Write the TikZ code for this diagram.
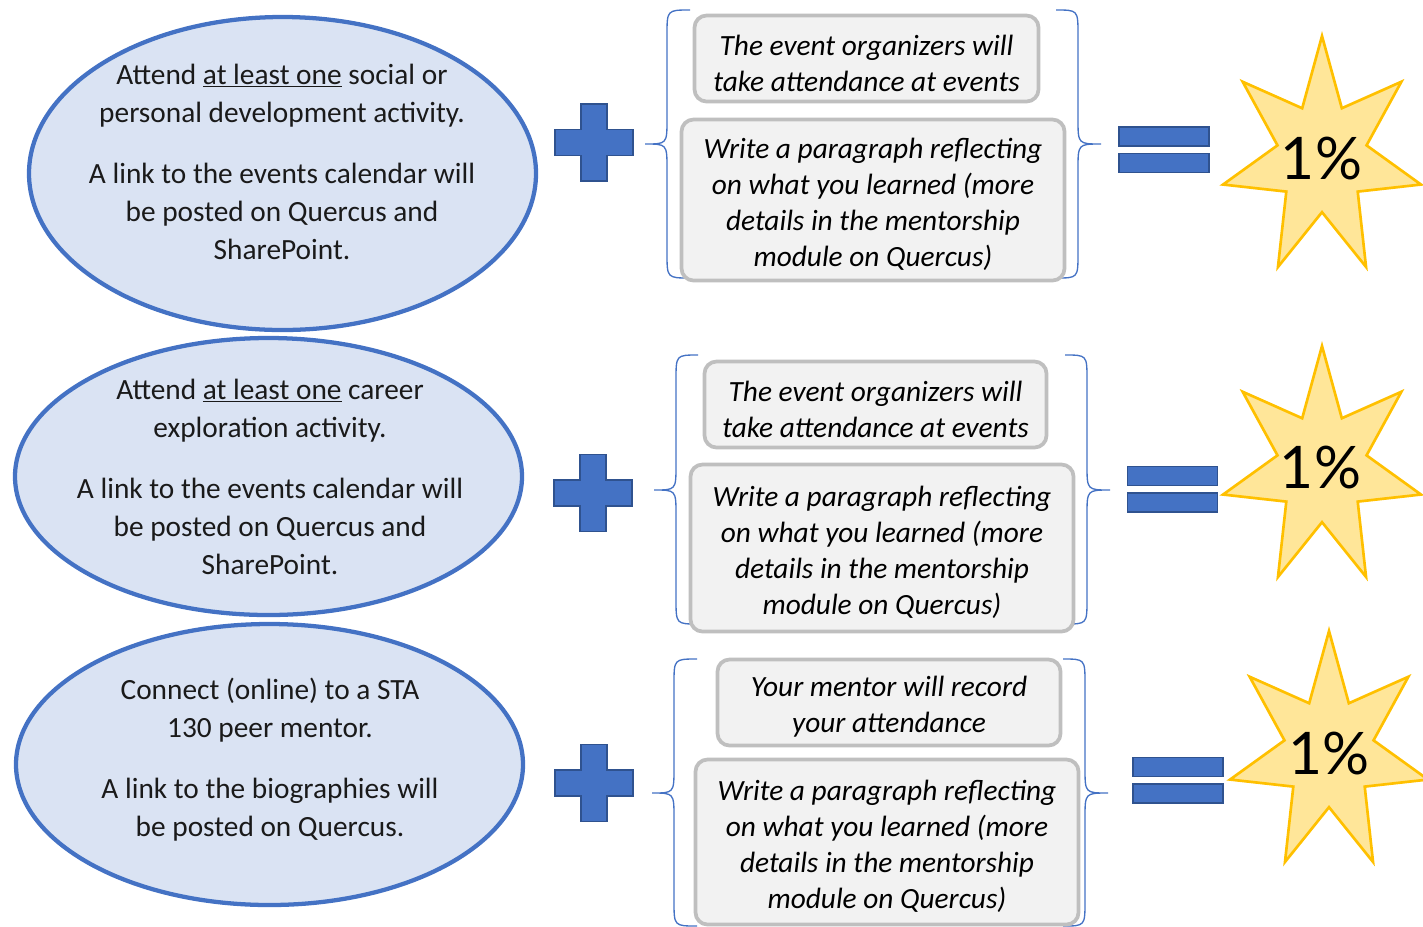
\documentclass[tikz,border=0pt]{standalone}
\usepackage{fontspec}
\setmainfont{Carlito}
\newfontfamily\pctfont{Lato}
\usepackage{tikz}
\usetikzlibrary{calc}

\definecolor{bubblefill}{HTML}{DAE3F3}
\definecolor{bubbleline}{HTML}{4472C4}
\definecolor{notefill}{HTML}{F2F2F2}
\definecolor{noteline}{HTML}{BFBFBF}
\definecolor{starfill}{HTML}{FFE699}
\definecolor{starline}{HTML}{FFC000}
\definecolor{signline}{HTML}{2F528F}
\definecolor{ink}{HTML}{1A1A1A}

\tikzset{
  bubble/.style={draw=bubbleline, fill=bubblefill, line width=3.2pt},
  acttext/.style={align=center, inner sep=0pt, text=ink, font=\fontsize{22}{28.5}\selectfont},
  notebox/.style={draw=noteline, fill=notefill, line width=2.8pt, rounded corners=9pt,
    align=center, inner sep=0pt, text=black, font=\fontsize{22}{27}\selectfont\itshape},
  bracesty/.style={draw=bubbleline, line width=1pt},
  signsty/.style={draw=signline, fill=bubbleline, line width=1.1pt},
  starsty/.style={draw=starline, fill=starfill, line width=2pt, line join=miter},
  pcttext/.style={inner sep=0pt, text=black, font=\pctfont\fontsize{44}{50}\selectfont}
}

% lifts the first line of a note a little
\newcommand{\notestrut}{\rule{0pt}{22pt}}
% plus sign at its centre
\newcommand{\plusat}[2]{\draw[signsty] (#1-13,#2-38.5) -- ++(26,0) -- ++(0,25.5) -- ++(26,0) -- ++(0,26) -- ++(-26,0) -- ++(0,25.5) -- ++(-26,0) -- ++(0,-25.5) -- ++(-26,0) -- ++(0,-26) -- ++(26,0) -- cycle;}
% equal sign from its top left corner
\newcommand{\equalat}[2]{\draw[signsty] (#1,#2) rectangle ++(90,19); \draw[signsty] (#1,#2+26.5) rectangle ++(90,19);}
% curly brace: end x, spine x, tip x, top y, tip y, bottom y
\newcommand{\curly}[6]{\draw[bracesty] (#1,#4) .. controls (#2,#4) .. (#2,#4+25) -- (#2,#5-25) .. controls (#2,#5) .. (#3,#5) .. controls (#2,#5) .. (#2,#5+25) -- (#2,#6-25) .. controls (#2,#6) .. (#1,#6);}
% seven pointed star at its centre
\newcommand{\starat}[2]{\draw[starsty] ($(#1,#2)+(-90:101.5 and 121.5)$) \foreach \k [evaluate=\k as \r using {mod(\k,2)==0 ? 1 : 0.45}] in {1,...,13} { -- ($(#1,#2)+({-90+\k*360/14}:{101.5*\r} and {121.5*\r})$) } -- cycle;}

\begin{document}
\begin{tikzpicture}[x=0.75pt,y=0.75pt,yscale=-1,xscale=1]
\useasboundingbox (0,0) rectangle (1423,926);

%Shape: Ellipse
\draw[bubble] (282.5,173.5) ellipse (253.5 and 156.5);
%Shape: Ellipse
\draw[bubble] (268.5,476.5) ellipse (253.5 and 138.5);
%Shape: Ellipse
\draw[bubble] (269.5,764.5) ellipse (253.5 and 140.5);

% Text Node
\node[acttext] (act1) at (282,162) {Attend \underline{at least one} social or\\personal development activity.\\[17.25pt]A link to the events calendar will\\be posted on Quercus and\\SharePoint.};
% Text Node
\node[acttext] (act2) at (270,477) {Attend \underline{at least one} career\\exploration activity.\\[17.25pt]A link to the events calendar will\\be posted on Quercus and\\SharePoint.};
% Text Node
\node[acttext] (act3) at (270,760) {Connect (online) to a STA\\130 peer mentor.\\[17.25pt]A link to the biographies will\\be posted on Quercus.};

%Shape: Plus
\plusat{594}{142.5}
\plusat{593}{493}
\plusat{594}{783}

%Shape: Brace
\curly{690}{667}{645}{10}{144}{278}
\curly{1056}{1078}{1101}{10}{144}{278}
\curly{698}{676}{654}{355}{490}{624}
\curly{1065}{1087}{1110}{355}{490}{624}
\curly{697}{674}{652}{659}{793}{926}
\curly{1063}{1085}{1108}{659}{793}{926}

% Text Node
\node[notebox, minimum width=258pt, minimum height=64.5pt] (take1) at (866.5,58.5) {\notestrut The event organizers will\\take attendance at events};
% Text Node
\node[notebox, minimum width=287.25pt, minimum height=120.75pt] (write1) at (873,200) {\notestrut Write a paragraph reflecting\\on what you learned (more\\details in the mentorship\\module on Quercus)};
% Text Node
\node[notebox, minimum width=256.5pt, minimum height=64.5pt] (take2) at (875.5,404.5) {\notestrut The event organizers will\\take attendance at events};
% Text Node
\node[notebox, minimum width=287.25pt, minimum height=125.25pt] (write2) at (882,548) {\notestrut Write a paragraph reflecting\\on what you learned (more\\details in the mentorship\\module on Quercus)};
% Text Node
\node[notebox, minimum width=257.25pt, minimum height=64.5pt] (take3) at (889,702.5) {\notestrut Your mentor will record\\your attendance};
% Text Node
\node[notebox, minimum width=287.25pt, minimum height=123.75pt] (write3) at (887,842) {\notestrut Write a paragraph reflecting\\on what you learned (more\\details in the mentorship\\module on Quercus)};

%Shape: Equal
\equalat{1119}{127}
\equalat{1127.5}{466.5}
\equalat{1133}{757.5}

%Shape: Star
\starat{1322}{157.5}
\starat{1322}{467.5}
\starat{1329}{752.5}

% Text Node
\node[pcttext] (pct1) at (1321.5,159) {1\%};
% Text Node
\node[pcttext] (pct2) at (1320.5,468) {1\%};
% Text Node
\node[pcttext] (pct3) at (1329,753.5) {1\%};

\end{tikzpicture}
\end{document}
